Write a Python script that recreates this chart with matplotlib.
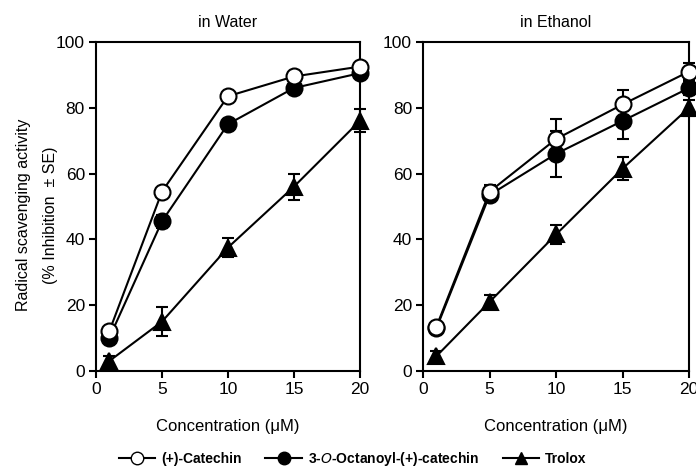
import matplotlib.pyplot as plt
from matplotlib.lines import Line2D

plt.rcParams['font.family'] = ['Liberation Sans', 'DejaVu Sans']

conc = [1, 5, 10, 15, 20]

# in Water
w_cat = [12, 54.5, 83.5, 89.5, 92.5]
w_cat_err = [0.5, 0.5, 0.5, 0.5, 0.5]
w_oct = [10, 45.5, 75, 86, 90.5]
w_oct_err = [0.5, 2, 1.5, 0.5, 0.5]
w_tro = [3, 15, 37.5, 56, 76]
w_tro_err = [1.5, 4.5, 3, 4, 3.5]

# in Ethanol
e_cat = [13.5, 54.5, 70.5, 81, 91]
e_cat_err = [0.5, 2, 6, 4.5, 2.5]
e_oct = [13, 53.5, 66, 76, 86]
e_oct_err = [0.5, 0.5, 7, 5.5, 2]
e_tro = [4.5, 21, 41.5, 61.5, 80]
e_tro_err = [1.5, 2, 3, 3.5, 2.5]

fig = plt.figure(figsize=(6.96, 4.66), dpi=100)
ax1 = fig.add_axes([0.138, 0.204, 0.379, 0.706])
ax2 = fig.add_axes([0.608, 0.204, 0.382, 0.706])


def draw(ax, cat, cat_e, oct_, oct_e, tro, tro_e, title):
    kw = dict(color='black', lw=1.5, capsize=4, capthick=1.5, elinewidth=1.5,
              markersize=11.5, markeredgewidth=1.5, markeredgecolor='black')
    ax.errorbar(conc, tro, yerr=tro_e, marker='^', mfc='black', zorder=3, **kw)
    ax.errorbar(conc, oct_, yerr=oct_e, marker='o', mfc='black', zorder=4, **kw)
    ax.errorbar(conc, cat, yerr=cat_e, marker='o', mfc='white', zorder=5, **kw)
    ax.set_xlim(0, 20)
    ax.set_ylim(0, 100)
    ax.set_xticks([0, 5, 10, 15, 20])
    ax.set_yticks([0, 20, 40, 60, 80, 100])
    ax.tick_params(direction='out', length=5, width=1.5, labelsize=12.5,
                   top=False, right=False, pad=3)
    for s in ax.spines.values():
        s.set_linewidth(1.5)
    ax.set_title(title, fontsize=11.5, pad=11)
    ax.set_xlabel('Concentration (\u03bcM)', fontsize=12, labelpad=16)
    for a in ax.get_children():
        a.set_clip_on(False)


draw(ax1, w_cat, w_cat_err, w_oct, w_oct_err, w_tro, w_tro_err, 'in Water')
draw(ax2, e_cat, e_cat_err, e_oct, e_oct_err, e_tro, e_tro_err, 'in Ethanol')

ax1.set_ylabel('Radical scavenging activity\n(% Inhibition  \u00b1 SE)',
               fontsize=11.5, linespacing=2.0)
ax1.yaxis.set_label_coords(-0.144, 0.474)

handles = [
    Line2D([], [], color='black', lw=1.5, marker='o', mfc='white', mec='black', markersize=9),
    Line2D([], [], color='black', lw=1.5, marker='o', mfc='black', mec='black', markersize=9),
    Line2D([], [], color='black', lw=1.5, marker='^', mfc='black', mec='black', markersize=9),
]
labels = ['(+)-Catechin', '3-$\\mathbf{\\it{O}}$-Octanoyl-(+)-catechin', 'Trolox']
fig.legend(handles, labels, loc='center left', bbox_to_anchor=(0.157, 0.016), ncol=3,
           frameon=False, prop={'weight': 'bold', 'size': 10},
           handlelength=2.6, columnspacing=1.7, handletextpad=0.45,
           borderpad=0.2)

fig.savefig('out.png', dpi=100)
